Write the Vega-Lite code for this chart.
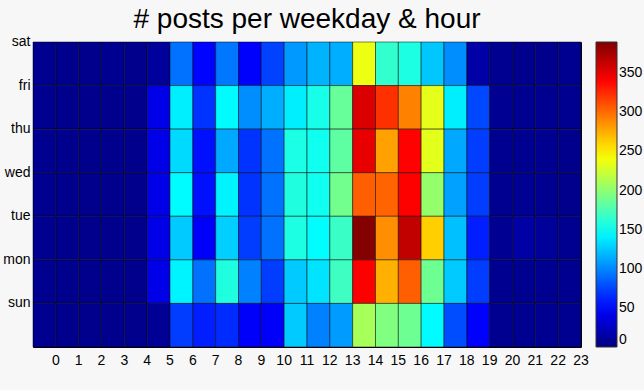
{
  "$schema": "https://vega.github.io/schema/vega-lite/v6.json",
  "width": 548,
  "height": 305,
  "autosize": "none",
  "padding": {"left": 33, "top": 42, "right": 63, "bottom": 43},
  "background": "#f7f7f7",
  "title": {"text": "# posts per weekday & hour", "fontSize": 28, "letterSpacing": 1.2, "fontWeight": "normal", "font": "Liberation Sans", "color": "black", "anchor": "middle", "offset": 0},
  "datasets": {
    "grid": [
      {"day":"sat","hour":0,"n":6},{"day":"sat","hour":1,"n":5},{"day":"sat","hour":2,"n":5},{"day":"sat","hour":3,"n":6},{"day":"sat","hour":4,"n":5},{"day":"sat","hour":5,"n":10},{"day":"sat","hour":6,"n":92},{"day":"sat","hour":7,"n":50},{"day":"sat","hour":8,"n":94},{"day":"sat","hour":9,"n":48},{"day":"sat","hour":10,"n":74},{"day":"sat","hour":11,"n":107},{"day":"sat","hour":12,"n":117},{"day":"sat","hour":13,"n":115},{"day":"sat","hour":14,"n":237},{"day":"sat","hour":15,"n":165},{"day":"sat","hour":16,"n":157},{"day":"sat","hour":17,"n":125},{"day":"sat","hour":18,"n":103},{"day":"sat","hour":19,"n":15},{"day":"sat","hour":20,"n":6},{"day":"sat","hour":21,"n":5},{"day":"sat","hour":22,"n":5},{"day":"sat","hour":23,"n":6},
      {"day":"fri","hour":0,"n":6},{"day":"fri","hour":1,"n":5},{"day":"fri","hour":2,"n":5},{"day":"fri","hour":3,"n":5},{"day":"fri","hour":4,"n":5},{"day":"fri","hour":5,"n":40},{"day":"fri","hour":6,"n":140},{"day":"fri","hour":7,"n":68},{"day":"fri","hour":8,"n":145},{"day":"fri","hour":9,"n":103},{"day":"fri","hour":10,"n":115},{"day":"fri","hour":11,"n":140},{"day":"fri","hour":12,"n":155},{"day":"fri","hour":13,"n":185},{"day":"fri","hour":14,"n":355},{"day":"fri","hour":15,"n":323},{"day":"fri","hour":16,"n":292},{"day":"fri","hour":17,"n":234},{"day":"fri","hour":18,"n":140},{"day":"fri","hour":19,"n":76},{"day":"fri","hour":20,"n":7},{"day":"fri","hour":21,"n":6},{"day":"fri","hour":22,"n":6},{"day":"fri","hour":23,"n":6},
      {"day":"thu","hour":0,"n":6},{"day":"thu","hour":1,"n":5},{"day":"thu","hour":2,"n":5},{"day":"thu","hour":3,"n":5},{"day":"thu","hour":4,"n":5},{"day":"thu","hour":5,"n":40},{"day":"thu","hour":6,"n":132},{"day":"thu","hour":7,"n":55},{"day":"thu","hour":8,"n":113},{"day":"thu","hour":9,"n":68},{"day":"thu","hour":10,"n":92},{"day":"thu","hour":11,"n":156},{"day":"thu","hour":12,"n":152},{"day":"thu","hour":13,"n":182},{"day":"thu","hour":14,"n":350},{"day":"thu","hour":15,"n":280},{"day":"thu","hour":16,"n":341},{"day":"thu","hour":17,"n":233},{"day":"thu","hour":18,"n":113},{"day":"thu","hour":19,"n":72},{"day":"thu","hour":20,"n":6},{"day":"thu","hour":21,"n":6},{"day":"thu","hour":22,"n":6},{"day":"thu","hour":23,"n":5},
      {"day":"wed","hour":0,"n":6},{"day":"wed","hour":1,"n":5},{"day":"wed","hour":2,"n":5},{"day":"wed","hour":3,"n":5},{"day":"wed","hour":4,"n":5},{"day":"wed","hour":5,"n":40},{"day":"wed","hour":6,"n":145},{"day":"wed","hour":7,"n":55},{"day":"wed","hour":8,"n":142},{"day":"wed","hour":9,"n":68},{"day":"wed","hour":10,"n":92},{"day":"wed","hour":11,"n":158},{"day":"wed","hour":12,"n":152},{"day":"wed","hour":13,"n":190},{"day":"wed","hour":14,"n":305},{"day":"wed","hour":15,"n":303},{"day":"wed","hour":16,"n":342},{"day":"wed","hour":17,"n":203},{"day":"wed","hour":18,"n":110},{"day":"wed","hour":19,"n":72},{"day":"wed","hour":20,"n":6},{"day":"wed","hour":21,"n":7},{"day":"wed","hour":22,"n":6},{"day":"wed","hour":23,"n":5},
      {"day":"tue","hour":0,"n":6},{"day":"tue","hour":1,"n":5},{"day":"tue","hour":2,"n":5},{"day":"tue","hour":3,"n":5},{"day":"tue","hour":4,"n":5},{"day":"tue","hour":5,"n":40},{"day":"tue","hour":6,"n":126},{"day":"tue","hour":7,"n":47},{"day":"tue","hour":8,"n":128},{"day":"tue","hour":9,"n":72},{"day":"tue","hour":10,"n":92},{"day":"tue","hour":11,"n":157},{"day":"tue","hour":12,"n":146},{"day":"tue","hour":13,"n":168},{"day":"tue","hour":14,"n":388},{"day":"tue","hour":15,"n":287},{"day":"tue","hour":16,"n":365},{"day":"tue","hour":17,"n":262},{"day":"tue","hour":18,"n":122},{"day":"tue","hour":19,"n":60},{"day":"tue","hour":20,"n":7},{"day":"tue","hour":21,"n":14},{"day":"tue","hour":22,"n":10},{"day":"tue","hour":23,"n":6},
      {"day":"mon","hour":0,"n":6},{"day":"mon","hour":1,"n":5},{"day":"mon","hour":2,"n":5},{"day":"mon","hour":3,"n":5},{"day":"mon","hour":4,"n":5},{"day":"mon","hour":5,"n":40},{"day":"mon","hour":6,"n":142},{"day":"mon","hour":7,"n":92},{"day":"mon","hour":8,"n":158},{"day":"mon","hour":9,"n":98},{"day":"mon","hour":10,"n":72},{"day":"mon","hour":11,"n":126},{"day":"mon","hour":12,"n":136},{"day":"mon","hour":13,"n":170},{"day":"mon","hour":14,"n":342},{"day":"mon","hour":15,"n":274},{"day":"mon","hour":16,"n":305},{"day":"mon","hour":17,"n":188},{"day":"mon","hour":18,"n":126},{"day":"mon","hour":19,"n":72},{"day":"mon","hour":20,"n":6},{"day":"mon","hour":21,"n":6},{"day":"mon","hour":22,"n":6},{"day":"mon","hour":23,"n":6},
      {"day":"sun","hour":0,"n":6},{"day":"sun","hour":1,"n":5},{"day":"sun","hour":2,"n":5},{"day":"sun","hour":3,"n":5},{"day":"sun","hour":4,"n":5},{"day":"sun","hour":5,"n":8},{"day":"sun","hour":6,"n":72},{"day":"sun","hour":7,"n":60},{"day":"sun","hour":8,"n":65},{"day":"sun","hour":9,"n":47},{"day":"sun","hour":10,"n":47},{"day":"sun","hour":11,"n":126},{"day":"sun","hour":12,"n":98},{"day":"sun","hour":13,"n":108},{"day":"sun","hour":14,"n":210},{"day":"sun","hour":15,"n":195},{"day":"sun","hour":16,"n":188},{"day":"sun","hour":17,"n":145},{"day":"sun","hour":18,"n":78},{"day":"sun","hour":19,"n":48},{"day":"sun","hour":20,"n":6},{"day":"sun","hour":21,"n":6},{"day":"sun","hour":22,"n":6},{"day":"sun","hour":23,"n":6}
    ]
  },
  "data": {"name": "grid"},
  "mark": {"type": "rect", "stroke": "black", "strokeWidth": 0.7, "strokeOpacity": 0.7},
  "encoding": {
    "x": {
      "field": "hour", "type": "ordinal",
      "scale": {"paddingInner": 0, "paddingOuter": 0},
      "axis": {"title": null, "labelAngle": 0, "labelOffset": 11.4, "ticks": false, "domain": false, "labelPadding": 6, "labelFontSize": 14, "labelFont": "Liberation Sans", "labelColor": "black"}
    },
    "y": {
      "field": "day", "type": "ordinal",
      "sort": ["sat", "fri", "thu", "wed", "tue", "mon", "sun"],
      "scale": {"paddingInner": 0, "paddingOuter": 0},
      "axis": {"title": null, "labelOffset": -21.8, "ticks": false, "domain": false, "labelPadding": 3, "labelFontSize": 14, "labelFont": "Liberation Sans", "labelColor": "black"}
    },
    "color": {
      "field": "n", "type": "quantitative",
      "scale": {"domain": [0, 390], "range": ["#000080", "#0000ff", "#0080ff", "#00ffff", "#80ff80", "#ffff00", "#ff8000", "#ff0000", "#800000"], "interpolate": "rgb"},
      "legend": {"title": null, "orient": "right", "offset": 15, "padding": 0, "gradientLength": 305, "gradientThickness": 21, "gradientStrokeColor": "#333", "gradientStrokeWidth": 1, "values": [0, 50, 100, 150, 200, 250, 300, 350], "labelOverlap": false, "labelFontSize": 14, "labelFont": "Liberation Sans", "labelColor": "black", "labelOffset": 2}
    }
  },
  "config": {"view": {"stroke": "black", "strokeWidth": 1}}
}
